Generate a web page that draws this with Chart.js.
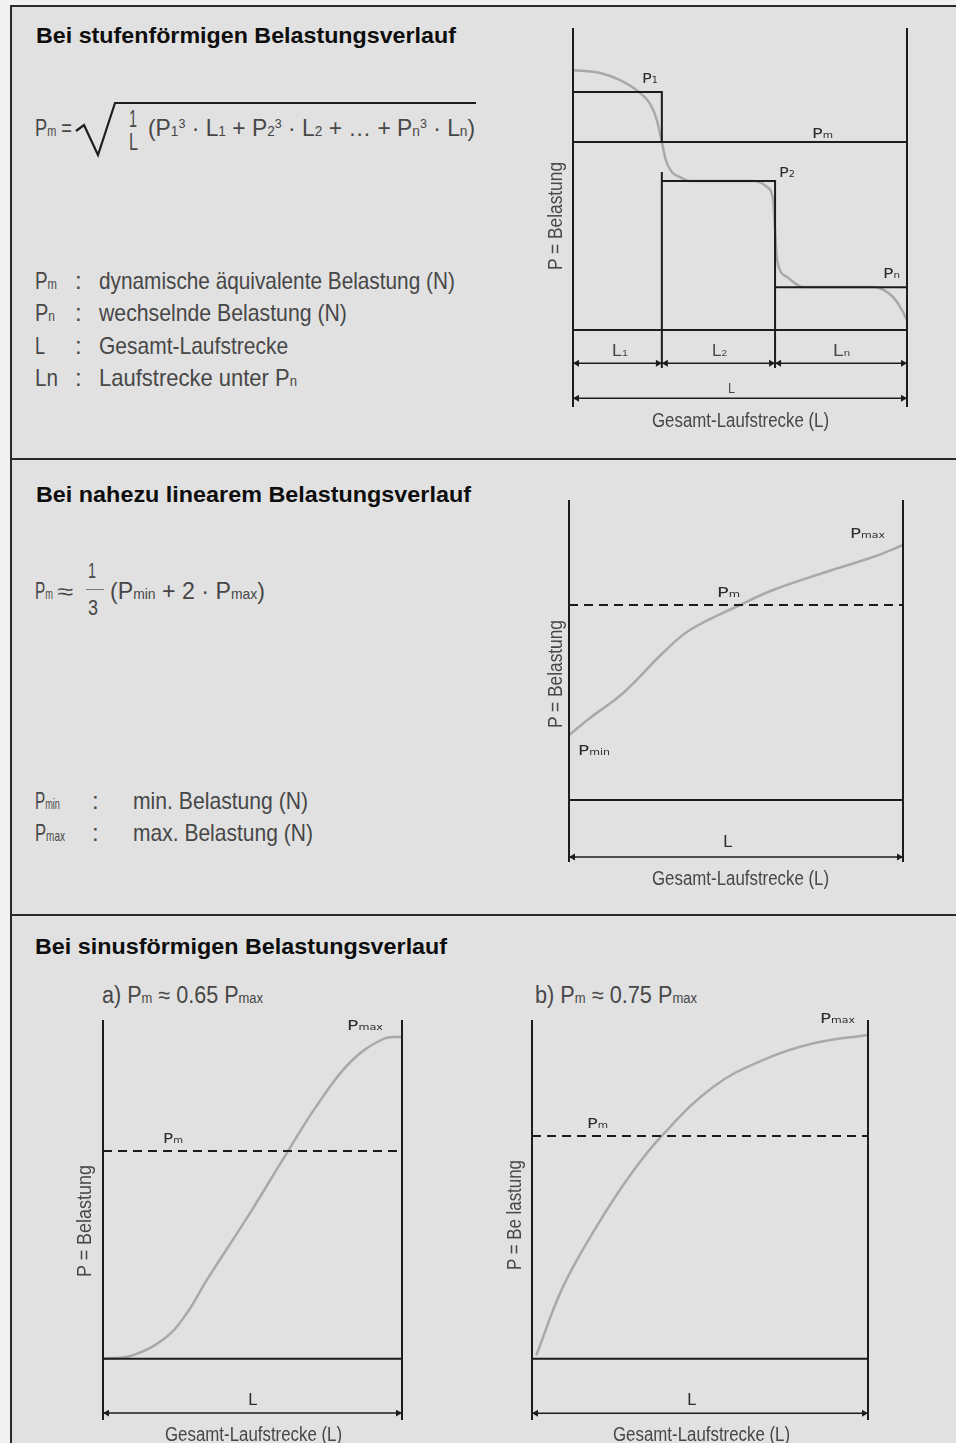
<!DOCTYPE html>
<html lang="de">
<head>
<meta charset="utf-8">
<title>Belastungsverlauf</title>
<script src="https://cdn.jsdelivr.net/npm/chart.js@4.4.1/dist/chart.umd.min.js"></script>
<style>
  html, body { margin: 0; padding: 0; }
  body { width: 956px; height: 1443px; background: #f1f1f1; overflow: hidden; }
  #page { position: relative; width: 956px; height: 1443px; }
  #panel { position: absolute; left: 10px; top: 5px; right: 0; bottom: 0; background: #e1e1e1;
           border-left: 2px solid #2a2a2a; border-top: 2px solid #2a2a2a; }
  .sep { position: absolute; left: 10px; right: 0; height: 2px; background: #2a2a2a; }
  canvas { position: absolute; }
  svg { position: absolute; left: 0; top: 0; }
  .t { position: absolute; white-space: nowrap; line-height: 1; transform-origin: 0 0;
       font-family: "Liberation Sans", Arial, sans-serif; color: #474747; }
  .h { font-weight: bold; color: #0e0e0e; }
  .lbl { font-family: "DejaVu Sans", sans-serif; color: #2c2c2c; }
  .s { font-size: .6em; }
  .u { font-size: .55em; position: relative; top: -.62em; }
</style>
</head>
<body>
<div id="page">
  <div id="panel"></div>
  <div class="sep" style="top:458px"></div>
  <div class="sep" style="top:914px"></div>
  <svg width="956" height="620">
    <polyline points="76,131 84,125 98,155 115,103 476,103" fill="none" stroke="#1e1e1e" stroke-width="2.2"/>
    <line x1="86" y1="589.5" x2="104" y2="589.5" stroke="#777" stroke-width="1"/>
  </svg>
  <canvas id="stufen" width="354" height="399" style="left:563px;top:18px"></canvas>
  <canvas id="linear" width="354" height="382" style="left:559px;top:490px"></canvas>
  <canvas id="sinusA" width="319" height="420" style="left:93px;top:1010px"></canvas>
  <canvas id="sinusB" width="356" height="420" style="left:522px;top:1010px"></canvas>
</div>
<script>
// Stufenförmiger Verlauf (x in % von L)
const stufenGrenzen = [0, 26.6, 60.5, 100];     // Grenzen L1 | L2 | Ln
const stufenLasten = [10, 6.26, 1.8];           // P1, P2, Pn
const stufenPm = 7.9;
const stufenKurveX = [0, 8.1, 14.1, 20.1, 23.1, 25.1, 26.6, 27.8, 29.6, 32, 35, 53.9, 58.1, 59.9, 60.5, 61.1, 64.1, 68.9, 89.8, 95.8, 98.5, 100];
const stufenKurveY = [10.92, 10.8, 10.5, 9.96, 9.5, 8.82, 7.9, 7.14, 6.64, 6.43, 6.26, 6.26, 6.01, 5.46, 4.2, 2.94, 2.23, 1.81, 1.81, 1.39, 0.84, 0.42];

// Nahezu linearer Verlauf
const linearKurveX = [0, 6.3, 16.2, 28.1, 36.2, 51.2, 61.1, 76, 91, 100];
const linearKurveY = [6.5, 8.2, 10.7, 14.7, 17, 19.5, 21, 22.7, 24.3, 25.5];
const linearPm = 19.5;

// Sinusförmiger Verlauf a) und b) (Pmax = 100)
const sinusAX = [0, 10.1, 21.3, 28, 34.7, 49.2, 60.9, 71.5, 82.6, 93.7, 100];
const sinusAY = [0, 1.1, 6.8, 14.1, 24.4, 45.3, 63, 78.6, 92, 99.3, 100];
const sinusAPm = 64.5;
const sinusBX = [1.3, 9.2, 19.2, 29.1, 38.6, 54, 68.9, 83.8, 100];
const sinusBY = [1.1, 22.2, 40.8, 56.5, 68.8, 84, 92.3, 97.4, 100];
const sinusBPm = 68.8;

const BLACK = '#1c1c1c';
const GREY = '#a9a9a9';
const page = document.getElementById('page');

function pts(xs, ys) {
    return xs.map((x, i) => ({ x: x, y: ys[i] }));
}

function lineDs(data, color, width, dash) {
    return { data: data, borderColor: color, borderWidth: width, borderDash: dash || [],
             pointRadius: 0, tension: 0, fill: false, clip: false };
}

function curveDs(data, monotone) {
    const ds = lineDs(data, GREY, 2.5);
    if (monotone) ds.cubicInterpolationMode = 'monotone';
    else ds.tension = 0.4;
    return ds;
}

// Bemaßungslinie mit Pfeilen an jedem Abschnittsende
function dimension(level, bounds, areaW) {
    const shift = 4 / areaW * 100;
    const line = [], arrows = [];
    for (let i = 0; i < bounds.length - 1; i++) {
        const a = bounds[i], b = bounds[i + 1];
        line.push({ x: a, y: level }, { x: b, y: level }, { x: b, y: null });
        arrows.push({ x: a + shift, y: level, r: -90 }, { x: b - shift, y: level, r: 90 });
    }
    return [
        lineDs(line, BLACK, 1.5),
        { data: arrows, showLine: false, pointStyle: 'triangle', pointRadius: 4,
          pointRotation: c => (c.raw ? c.raw.r : 0), pointBackgroundColor: BLACK,
          pointBorderColor: BLACK, pointBorderWidth: 0, clip: false }
    ];
}

function frame(yMin, yMax) {
    return lineDs([
        { x: 0, y: yMin }, { x: 0, y: yMax }, { x: 0, y: null },
        { x: 100, y: yMin }, { x: 100, y: yMax }, { x: 100, y: null },
        { x: 0, y: 0 }, { x: 100, y: 0 }
    ], BLACK, 2);
}

function diagram(id, yMin, yMax, datasets) {
    new Chart(document.getElementById(id), {
        type: 'line',
        data: { datasets: datasets },
        options: {
            responsive: false,
            animation: false,
            layout: { padding: 10 },
            plugins: { legend: { display: false }, tooltip: { enabled: false } },
            scales: {
                x: { type: 'linear', min: 0, max: 100, display: false },
                y: { type: 'linear', min: yMin, max: yMax, display: false }
            }
        }
    });
}

// Diagramm 1: stufenförmig
const [g0, g1, g2, g3] = stufenGrenzen;
const [p1, p2, pn] = stufenLasten;
const dimA = -1.39, dimB = -2.86;
diagram('stufen', -3.23, 12.69, [
    lineDs([
        { x: g0, y: p1 }, { x: g1, y: p1 }, { x: g1, y: stufenPm }, { x: g1, y: null },
        { x: g1, y: p2 + 0.38 }, { x: g1, y: dimA - 0.2 }, { x: g1, y: null },
        { x: g1, y: p2 }, { x: g2, y: p2 }, { x: g2, y: dimA - 0.2 }, { x: g2, y: null },
        { x: g2, y: pn }, { x: g3, y: pn }
    ], BLACK, 2),
    lineDs([{ x: g0, y: stufenPm }, { x: g3, y: stufenPm }], BLACK, 2),
    frame(-3.23, 12.69),
    ...dimension(dimA, stufenGrenzen, 334),
    ...dimension(dimB, [g0, g3], 334),
    curveDs(pts(stufenKurveX, stufenKurveY), true)
]);

// Diagramm 2: nahezu linear
diagram('linear', -6.2, 30, [
    lineDs([{ x: 0, y: linearPm }, { x: 100, y: linearPm }], BLACK, 2, [9, 6]),
    frame(-6.2, 30),
    ...dimension(-5.7, [0, 100], 334),
    curveDs(pts(linearKurveX, linearKurveY), false)
]);

// Diagramm 3 und 4: sinusförmig
diagram('sinusA', -19.04, 105.2, [
    lineDs([{ x: 0, y: sinusAPm }, { x: 100, y: sinusAPm }], BLACK, 2, [9, 6]),
    frame(-19.04, 105.2),
    ...dimension(-16.9, [0, 100], 299),
    curveDs(pts(sinusAX, sinusAY), false)
]);
diagram('sinusB', -18.9, 104.6, [
    lineDs([{ x: 0, y: sinusBPm }, { x: 100, y: sinusBPm }], BLACK, 2, [9, 6]),
    frame(-18.9, 104.6),
    ...dimension(-16.8, [0, 100], 336),
    curveDs(pts(sinusBX, sinusBY), false)
]);

// Texte: Position über Oberkante der Großbuchstaben, Breite wie im Original
function txt(html, left, capTop, size, width, cls) {
    const el = document.createElement('div');
    el.className = 't ' + (cls || '');
    el.innerHTML = html;
    el.style.fontSize = size + 'px';
    el.style.left = left + 'px';
    el.style.top = (capTop - 0.13 * size) + 'px';
    page.appendChild(el);
    const w = el.getBoundingClientRect().width;
    if (width) el.style.transform = 'scaleX(' + (width / w).toFixed(3) + ')';
    return el;
}

function vtxt(html, cx, cy, size, len) {
    const el = document.createElement('div');
    el.className = 't';
    el.innerHTML = html;
    el.style.fontSize = size + 'px';
    el.style.left = cx + 'px';
    el.style.top = cy + 'px';
    el.style.transformOrigin = '50% 50%';
    page.appendChild(el);
    const w = el.getBoundingClientRect().width;
    el.style.transform = 'translate(-50%,-50%) rotate(-90deg) scaleX(' + (len / w).toFixed(3) + ')';
}

const sub = s => '<span class="s">' + s + '</span>';
const sup = s => '<span class="u">' + s + '</span>';

// Abschnitt 1
txt('Bei stufenförmigen Belastungsverlauf', 36, 28, 22, 420, 'h');
txt('P' + sub('m') + ' =', 35, 119, 24, 37);
txt('1', 129, 110, 24, 8);
txt('L', 129, 133, 24, 9);
txt('(P' + sub('1') + sup('3') + ' · L' + sub('1') + ' + P' + sub('2') + sup('3') + ' · L' + sub('2') +
    ' + … + P' + sub('n') + sup('3') + ' · L' + sub('n') + ')', 148, 119, 24, 327);

const leg1 = [['P' + sub('m'), 22, 'dynamische äquivalente Belastung (N)', 356],
              ['P' + sub('n'), 20, 'wechselnde Belastung (N)', 248],
              ['L', 10, 'Gesamt-Laufstrecke', 189],
              ['Ln', 23, 'Laufstrecke unter P' + sub('n'), 198]];
leg1.forEach((r, i) => {
    const top = 272 + i * 32.5;
    txt(r[0], 35, top, 24, r[1]);
    txt(':', 75, top, 24);
    txt(r[2], 99, top, 24, r[3]);
});

txt('P' + sub('1'), 642, 73, 14, 16, 'lbl');
txt('P' + sub('m'), 812, 128, 14, 21, 'lbl');
txt('P' + sub('2'), 779, 167, 14, 16, 'lbl');
txt('P' + sub('n'), 883, 268, 14, 17, 'lbl');
txt('L' + sub('1'), 612, 345, 16, 16);
txt('L' + sub('2'), 712, 345, 16, 15);
txt('L' + sub('n'), 833, 345, 16, 17);
txt('L', 728, 382, 15, 7);
txt('Gesamt-Laufstrecke (L)', 652, 413, 20, 177);
vtxt('P = Belastung', 555, 216, 20, 108);

// Abschnitt 2
txt('Bei nahezu linearem Belastungsverlauf', 36, 487, 22, 435, 'h');
txt('P' + sub('m'), 35, 582, 24, 18);
txt('≈', 57, 584, 22, 16);
txt('1', 88, 563, 22, 8);
txt('3', 88, 600, 22, 10);
txt('(P' + sub('min') + ' + 2 · P' + sub('max') + ')', 110, 582, 24, 155);
txt('P' + sub('min'), 35, 792, 24, 25);
txt(':', 92, 792, 24);
txt('min. Belastung (N)', 133, 792, 24, 175);
txt('P' + sub('max'), 35, 824, 24, 30);
txt(':', 92, 824, 24);
txt('max. Belastung (N)', 133, 824, 24, 180);

txt('P' + sub('max'), 850, 528, 14, 35, 'lbl');
txt('P' + sub('m'), 717, 587, 14, 23, 'lbl');
txt('P' + sub('min'), 578, 745, 14, 32, 'lbl');
txt('L', 723, 837, 15, 9, 'lbl');
txt('Gesamt-Laufstrecke (L)', 652, 871, 20, 177);
vtxt('P = Belastung', 555, 674, 20, 108);

// Abschnitt 3
txt('Bei sinusförmigen Belastungsverlauf', 35, 939, 22, 412, 'h');
txt('a) P' + sub('m') + ' ≈ 0.65 P' + sub('max'), 102, 987, 23, 161);
txt('b) P' + sub('m') + ' ≈ 0.75 P' + sub('max'), 535, 987, 23, 162);

txt('P' + sub('max'), 347, 1020, 14, 36, 'lbl');
txt('P' + sub('m'), 163, 1133, 14, 20, 'lbl');
txt('L', 248, 1395, 15, 9, 'lbl');
txt('Gesamt-Laufstrecke (L)', 165, 1427, 20, 177);
vtxt('P = Belastung', 84, 1221, 20, 112);

txt('P' + sub('max'), 820, 1013, 14, 35, 'lbl');
txt('P' + sub('m'), 587, 1118, 14, 21, 'lbl');
txt('L', 687, 1395, 15, 9, 'lbl');
txt('Gesamt-Laufstrecke (L)', 613, 1427, 20, 177);
vtxt('P = Be lastung', 514, 1215, 20, 110);
</script>
</body>
</html>
